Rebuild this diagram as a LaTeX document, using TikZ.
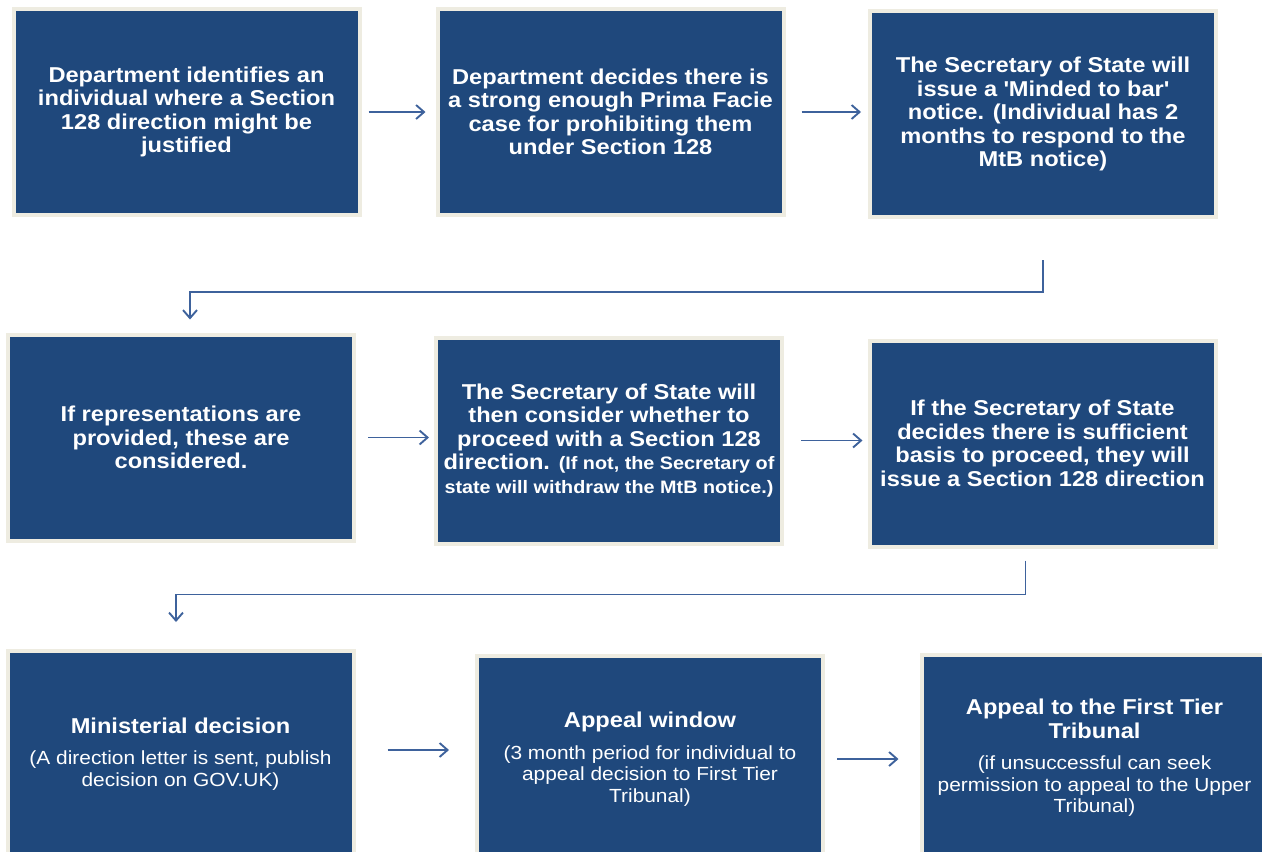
\documentclass[tikz,border=0pt]{standalone}
\usepackage{fontspec}
\setmainfont{Liberation Sans}[FakeStretch=1.1]
\usetikzlibrary{arrows.meta}
\definecolor{boxblue}{RGB}{31,72,124}
\definecolor{rim}{RGB}{238,236,225}
\definecolor{arrowblue}{RGB}{62,98,156}
\newcommand\hdfont{\fontsize{21.5}{23.5}\selectfont\bfseries}
\newcommand\smfont{\fontsize{18}{20}\selectfont\bfseries}
\newcommand\rgfont{\fontsize{19}{21}\selectfont\mdseries}

\begin{document}
\begin{tikzpicture}[x=1pt,y=-1pt,
  stage/.style={draw=rim, line width=4pt, fill=boxblue, text=white, align=center,
    minimum width=346pt, minimum height=206pt, inner sep=0pt, font=\hdfont},
  flow/.style={draw=arrowblue, line width=1.9pt, -{Straight Barb[length=8pt,width=14pt]}}]
\useasboundingbox (0,0) rectangle (1262,852);
\node[stage] (dep) at (186.5,112) {Department identifies an\\individual where a Section\\128 direction might be\\justified};
\node[stage] (pf) at (610.5,112) {Department decides there is\\a strong enough Prima Facie\\case for prohibiting them\\under Section 128};
\node[stage] (mtb) at (1043,114) {The Secretary of State will\\issue a \textquotesingle Minded to bar\textquotesingle\\notice. (Individual has 2\\months to respond to the\\MtB notice)};
\node[stage] (rep) at (181,437.5) {If representations are\\provided, these are\\considered.};
\node[stage] (cons) at (609,440.5) {The Secretary of State will\\then consider whether to\\proceed with a Section 128\\direction. {\smfont (If not, the Secretary of}\\{\smfont state will withdraw the MtB notice.)}};
\node[stage] (dir) at (1042.5,443.5) {If the Secretary of State\\decides there is sufficient\\basis to proceed, they will\\issue a Section 128 direction};
\node[stage] (min) at (180.5,754) {Ministerial decision\\[8pt]\rgfont (A direction letter is sent, publish\\[-2pt]\rgfont decision on GOV.UK)};
\node[stage] (win) at (650,759) {Appeal window\\[8pt]\rgfont (3 month period for individual to\\[-2pt]\rgfont appeal decision to First Tier\\[-2pt]\rgfont Tribunal)};
\node[stage] (ftt) at (1094.5,758) {Appeal to the First Tier\\Tribunal\\[8pt]\rgfont (if unsuccessful can seek\\[-2pt]\rgfont permission to appeal to the Upper\\[-2pt]\rgfont Tribunal)};
\draw[flow,shorten <=7pt,shorten >=10pt] (dep) -- (pf);
\draw[flow,shorten <=16pt,shorten >=7pt] (pf.east) -- (pf.east -| mtb.west);
\draw[flow,shorten <=41pt,shorten >=13pt] (mtb.south) -- ++(0,73) -| ([xshift=9pt]rep.north);
\draw[flow,shorten <=12pt,shorten >=5pt] (rep.east) -- (rep.east -| cons.west);
\draw[flow,shorten <=17pt,shorten >=5pt] (cons.east) -- (cons.east -| dir.west);
\draw[flow,shorten <=12pt,shorten >=27pt] ([xshift=-17pt]dir.south) -- ++(0,46) -| ([xshift=-4.5pt]min.north);
\draw[flow,shorten <=32pt,shorten >=26pt] ([yshift=4pt]min.east) -- ([yshift=4pt]min.east -| win.west);
\draw[flow,shorten <=12pt,shorten >=21pt] (win.east) -- (win.east -| ftt.west);
\end{tikzpicture}
\end{document}
